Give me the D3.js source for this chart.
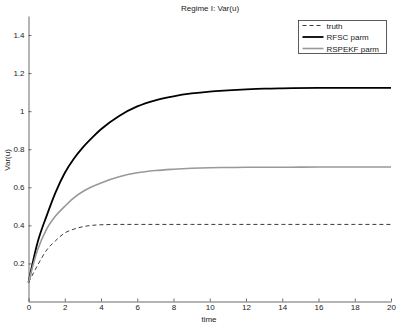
<!DOCTYPE html>
<html>
<head>
<meta charset="utf-8">
<script src="https://cdn.jsdelivr.net/npm/d3@7"></script>
<style>
  body { margin: 0; background: #fff; }
  text { font-family: "Liberation Sans", Arial, sans-serif; }
</style>
</head>
<body>
<div id="chart"></div>
<script>
// data
var times = [0, 0.5, 1, 1.5, 2, 2.5, 3, 3.5, 4, 5, 6, 7, 8, 9, 10, 11, 12, 13, 14, 16, 18, 20];
var truth = [0.10, 0.19, 0.27, 0.32, 0.36, 0.38, 0.393, 0.40, 0.403, 0.405, 0.405, 0.405, 0.405, 0.405, 0.405, 0.405, 0.405, 0.405, 0.405, 0.405, 0.405, 0.405];
var rfsc = [0.10, 0.31, 0.45, 0.575, 0.675, 0.75, 0.81, 0.86, 0.905, 0.975, 1.025, 1.057, 1.078, 1.093, 1.103, 1.109, 1.114, 1.118, 1.12, 1.122, 1.122, 1.122];
var rspekf = [0.10, 0.27, 0.38, 0.45, 0.50, 0.545, 0.578, 0.603, 0.623, 0.655, 0.676, 0.688, 0.695, 0.70, 0.703, 0.704, 0.705, 0.705, 0.705, 0.707, 0.707, 0.707];
var xTicks = [0, 2, 4, 6, 8, 10, 12, 14, 16, 18, 20];
var yTicks = [0.2, 0.4, 0.6, 0.8, 1, 1.2, 1.4];

var svgWidth = 399, svgHeight = 325;
var margin = {top: 16, right: 8, bottom: 23.5, left: 28.5};
var chartWidth = svgWidth - margin.left - margin.right;
var chartHeight = svgHeight - margin.top - margin.bottom;

var svg = d3.select("#chart").append("svg")
    .attr("width", svgWidth)
    .attr("height", svgHeight);

var chartGroup = svg.append("g")
    .attr("transform", `translate(${margin.left}, ${margin.top})`);

var xScale = d3.scaleLinear().domain([0, 20]).range([0, chartWidth]);
var yScale = d3.scaleLinear().domain([0, 1.5]).range([chartHeight, 0]);

// axes with inward ticks
var xAxis = d3.axisBottom(xScale).tickValues(xTicks).tickSizeInner(-3).tickSizeOuter(0).tickPadding(3)
    .tickFormat(d3.format("d"));
var yAxis = d3.axisLeft(yScale).tickValues(yTicks).tickSizeInner(-3).tickSizeOuter(0).tickPadding(4)
    .tickFormat(d => d === 1 ? "1" : d3.format(".1f")(d));

var gx = chartGroup.append("g")
    .attr("transform", `translate(0, ${chartHeight})`)
    .call(xAxis);
var gy = chartGroup.append("g").call(yAxis);

[gx, gy].forEach(g => {
  g.select(".domain").attr("stroke", "#444").attr("stroke-width", 0.8);
  g.selectAll(".tick line").attr("stroke", "#444").attr("stroke-width", 0.8);
  g.selectAll(".tick text").attr("font-size", 8).attr("fill", "#222")
    .style("font-family", "'Liberation Sans', Arial, sans-serif");
});

// lines
var series = [
  {name: "truth", values: truth, color: "#222", width: 0.9, dash: "4,3"},
  {name: "RFSC parm", values: rfsc, color: "#000", width: 1.8, dash: null},
  {name: "RSPEKF parm", values: rspekf, color: "#999", width: 1.6, dash: null}
];

var line = d3.line()
    .x(d => xScale(d[0]))
    .y(d => yScale(d[1]))
    .curve(d3.curveMonotoneX);

series.forEach(s => {
  chartGroup.append("path")
    .datum(times.map((t, i) => [t, s.values[i]]))
    .attr("fill", "none")
    .attr("stroke", s.color)
    .attr("stroke-width", s.width)
    .attr("stroke-dasharray", s.dash)
    .attr("d", line);
});

// title and labels
svg.append("text")
    .attr("x", 210).attr("y", 11)
    .attr("text-anchor", "middle")
    .attr("font-size", 8)
    .attr("fill", "#222")
    .text("Regime I: Var(u)");

svg.append("text")
    .attr("x", 209).attr("y", 322)
    .attr("text-anchor", "middle")
    .attr("font-size", 8)
    .attr("fill", "#222")
    .text("time");

svg.append("text")
    .attr("transform", "translate(10, 160) rotate(-90)")
    .attr("text-anchor", "middle")
    .attr("font-size", 8)
    .attr("fill", "#222")
    .text("Var(u)");

// legend
var legend = svg.append("g").attr("transform", "translate(298.5, 20.5)");
legend.append("rect")
    .attr("width", 88).attr("height", 33)
    .attr("fill", "#fff").attr("stroke", "#333").attr("stroke-width", 0.8);

series.forEach((s, i) => {
  var yy = 5 + i * 11.5;
  legend.append("line")
    .attr("x1", 4).attr("x2", 25)
    .attr("y1", yy).attr("y2", yy)
    .attr("stroke", s.color)
    .attr("stroke-width", s.width)
    .attr("stroke-dasharray", s.dash);
  legend.append("text")
    .attr("x", 28).attr("y", yy + 3)
    .attr("font-size", 8)
    .attr("fill", "#222")
    .text(s.name);
});
</script>
</body>
</html>
